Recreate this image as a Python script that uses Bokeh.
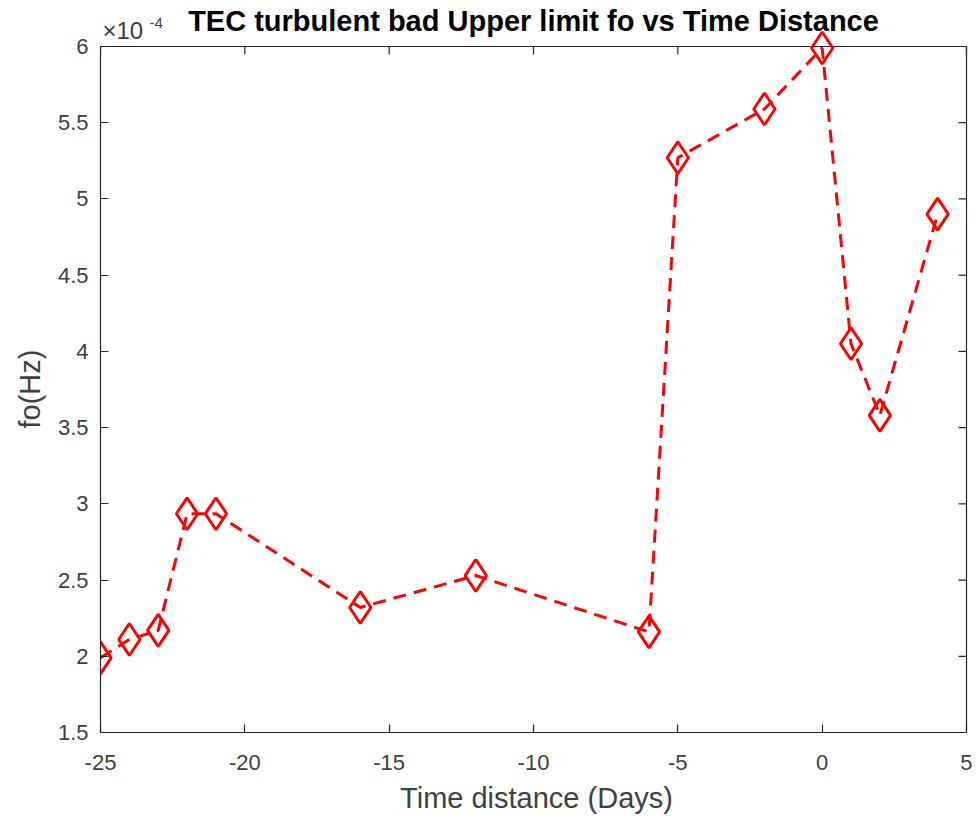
from bokeh.plotting import figure
from bokeh.models import FixedTicker, CustomJSTickFormatter, Range1d, Title
from bokeh.core.properties import value
from bokeh.embed import file_html
from bokeh.resources import INLINE

# ---- data ----
time_days = [-25, -24, -23, -22, -21, -16, -12, -6, -5, -2, 0, 1, 2, 4]
fo_e4 = [1.99, 2.11, 2.17, 2.935, 2.935, 2.32, 2.53, 2.16, 5.27, 5.59, 5.99, 4.05, 3.58, 4.90]  # x 1e-4 Hz
x_ticks = [-25, -20, -15, -10, -5, 0, 5]
y_ticks = [1.5, 2, 2.5, 3, 3.5, 4, 4.5, 5, 5.5, 6]
title_text = "TEC turbulent bad Upper limit fo vs Time Distance"
exp_base = "\u00d710"
exp_power = "-4"
x_label = "Time distance (Days)"
y_label = "fo(Hz)"
x_lim = (-25, 5)
y_lim = (1.5, 6)

FONT = "Liberation Sans"
AX = "#262626"
TXT = "#404040"

# ---- geometry (pixels) ----
BOX_W, BOX_H = 866, 686      # the axes box
TOP_PAD, RIGHT_PAD = 46, 6   # room above the box for title / exponent, right of box
XPX = BOX_W / (x_lim[1] - x_lim[0])
YPX = BOX_H / (y_lim[1] - y_lim[0])
x_end = x_lim[1] + RIGHT_PAD / XPX
y_end = y_lim[1] + TOP_PAD / YPX
TICK = 8

def sy(baseline_px_from_top, font_px):
    # text glyph baseline lands ~0.33em below the given point
    return y_end - (baseline_px_from_top - 0.33 * font_px) / YPX

p = figure(frame_width=BOX_W + RIGHT_PAD, frame_height=BOX_H + TOP_PAD,
           output_backend="svg", toolbar_location=None,
           x_range=Range1d(x_lim[0], x_end), y_range=Range1d(y_lim[0], y_end),
           min_border_left=100, min_border_top=0, min_border_right=0, min_border_bottom=84,
           background_fill_color="white", border_fill_color="white")
p.outline_line_color = None
p.xgrid.visible = False
p.ygrid.visible = False

fmt = CustomJSTickFormatter(code="return tick.toString();")

for ax, ticks, lim in ((p.xaxis[0], x_ticks, x_lim), (p.yaxis[0], y_ticks, y_lim)):
    ax.ticker = FixedTicker(ticks=ticks)
    ax.formatter = fmt
    ax.bounds = lim
    ax.major_tick_in = TICK
    ax.major_tick_out = 0
    ax.minor_tick_line_color = None
    ax.axis_line_color = AX
    ax.axis_line_width = 1.2
    ax.major_tick_line_color = AX
    ax.major_tick_line_width = 1.2
    ax.major_label_text_font = FONT
    ax.major_label_text_color = TXT
    ax.major_label_text_font_size = "22px"
    ax.axis_label_text_font = FONT
    ax.axis_label_text_color = TXT
    ax.axis_label_text_font_style = "normal"
    ax.axis_label_text_font_size = "29px"

p.xaxis[0].axis_label = x_label
p.xaxis[0].major_label_standoff = 22
p.xaxis[0].axis_label_standoff = 9
p.yaxis[0].major_label_standoff = 12

# y label centred on the axes box (not on the taller frame)
p.add_layout(Title(text=y_label, align="left", offset=304, standoff=17,
                   text_font=FONT, text_font_size="29px", text_font_style="normal",
                   text_color=TXT), "left")

# top and right edges of the box, with inward ticks
p.segment(x0=[x_lim[0], x_lim[1]], y0=[y_lim[1], y_lim[0]],
          x1=[x_lim[1], x_lim[1]], y1=[y_lim[1], y_lim[1]],
          line_color=AX, line_width=1.2)
p.segment(x0=x_ticks, y0=[y_lim[1]] * len(x_ticks),
          x1=x_ticks, y1=[y_lim[1] - TICK / YPX] * len(x_ticks),
          line_color=AX, line_width=1.2)
p.segment(x0=[x_lim[1]] * len(y_ticks), y0=y_ticks,
          x1=[x_lim[1] - TICK / XPX] * len(y_ticks), y1=y_ticks,
          line_color=AX, line_width=1.2)

# data
p.line(time_days, fo_e4, line_color="#FF0000", line_width=3, line_dash="13 8")
p.scatter(time_days, fo_e4, marker="diamond", size=32, fill_color=None,
          line_color="#FF0000", line_width=3)

# title and axis exponent
p.text(x=[(x_lim[0] + x_lim[1]) / 2], y=[sy(30, 29)], text=[title_text],
       text_font=value(FONT), text_font_size="29px", text_font_style="bold",
       text_color="#000000", text_align="center", text_baseline="alphabetic")
p.text(x=[x_lim[0]], y=[sy(38, 24)], text=[exp_base], x_offset=2,
       text_font=value(FONT), text_font_size="24px", text_color=TXT,
       text_align="left", text_baseline="alphabetic")
p.text(x=[x_lim[0]], y=[sy(27, 15)], text=[exp_power], x_offset=49,
       text_font=value(FONT), text_font_size="15px", text_color=TXT,
       text_align="left", text_baseline="alphabetic")

open("out.html", "w").write(file_html(p, INLINE))
